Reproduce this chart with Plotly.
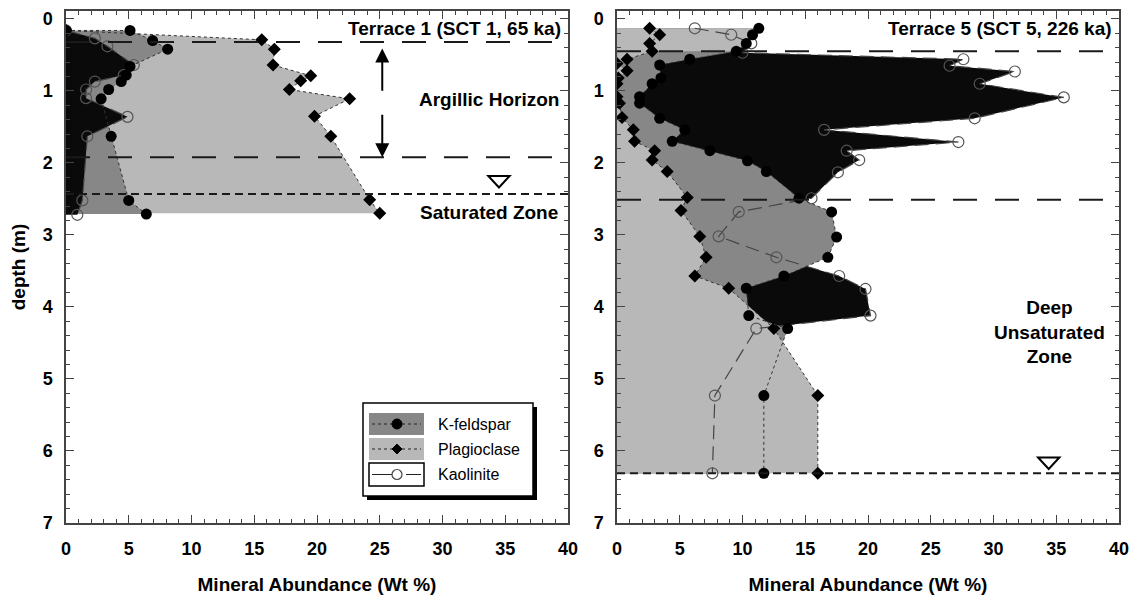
# { import the libraries
import plotly.graph_objects as go
from plotly.subplots import make_subplots
# }

# { data: x = mineral abundance (wt %), d = depth (m)
# terrace 1 (SCT 1, 65 ka)
t1_kfs_x = [0.0, 5.1, 6.9, 8.1, 5.1, 4.8, 4.4, 3.4, 2.8, 3.6, 5.0, 6.4]
t1_kfs_d = [0.16, 0.16, 0.30, 0.42, 0.66, 0.78, 0.87, 0.98, 1.11, 1.63, 2.52, 2.71]
t1_plag_x = [0.0, 15.6, 16.6, 16.5, 19.5, 18.7, 17.8, 22.6, 19.8, 21.1, 24.2, 25.0]
t1_plag_d = [0.16, 0.29, 0.42, 0.64, 0.79, 0.86, 0.98, 1.11, 1.35, 1.63, 2.51, 2.70]
t1_kao_x = [0.0, 2.3, 3.3, 5.4, 4.6, 2.3, 1.6, 1.6, 4.9, 1.7, 1.3, 0.9]
t1_kao_d = [0.16, 0.27, 0.38, 0.64, 0.78, 0.87, 0.98, 1.10, 1.36, 1.63, 2.52, 2.72]

# terrace 5 (SCT 5, 226 ka)
t5_kfs_x = [11.3, 10.8, 10.3, 9.5, 5.8, 3.4, 3.5, 2.8, 1.8, 1.8, 3.4, 5.4, 4.4,
            7.4, 10.4, 11.9, 14.5, 17.1, 17.5, 16.8, 13.3, 10.3, 10.5, 13.6, 11.7, 11.7]
t5_kfs_d = [0.13, 0.22, 0.34, 0.45, 0.56, 0.64, 0.82, 0.90, 1.08, 1.17, 1.38, 1.54, 1.70,
            1.83, 1.97, 2.12, 2.49, 2.68, 3.03, 3.31, 3.57, 3.74, 4.12, 4.30, 5.23, 6.31]
t5_plag_x = [2.6, 3.4, 2.6, 2.8, 0.8, 0.0, 0.8, 0.1, 0.0, 0.0, 0.2, 0.4, 1.3,
             1.4, 3.0, 2.8, 4.0, 5.6, 5.1, 6.6, 7.1, 6.2, 8.9, 12.5, 16.0, 16.0]
t5_plag_d = [0.13, 0.22, 0.34, 0.45, 0.56, 0.62, 0.72, 0.82, 0.90, 1.08, 1.17, 1.37, 1.54,
             1.70, 1.83, 1.96, 2.12, 2.48, 2.66, 3.02, 3.31, 3.57, 3.74, 4.30, 5.23, 6.31]
t5_kao_x = [6.2, 9.1, 10.7, 10.0, 27.6, 26.5, 31.7, 28.9, 35.6, 28.5, 16.5, 27.2, 18.3,
            19.3, 17.6, 15.5, 9.7, 8.1, 12.7, 17.7, 19.8, 20.2, 11.1, 7.8, 7.6]
t5_kao_d = [0.13, 0.22, 0.34, 0.47, 0.56, 0.65, 0.73, 0.90, 1.09, 1.38, 1.54, 1.71, 1.83,
            1.96, 2.13, 2.49, 2.68, 3.02, 3.31, 3.57, 3.75, 4.12, 4.30, 5.23, 6.31]

# horizon boundaries (long dash) and water table (short dash), m
t1_bounds = [0.32, 1.92]
t1_water = 2.43
t5_bounds = [0.45, 2.51]
t5_water = 6.31
water_symbol = [(34.5, 2.26), (34.4, 6.17)]
# }

BLACK = '#0a0a0a'
MID = '#878787'
LIGHT = '#b8b8b8'
FONT = 'Liberation Sans, Arial, sans-serif'

fig = make_subplots(rows=1, cols=2)


def fill(x, d, color, col):
    fig.add_trace(go.Scatter(x=x, y=d, mode='lines', fill='tozerox',
                             fillcolor=color, line=dict(width=0),
                             showlegend=False, hoverinfo='skip'), row=1, col=col)


def series(x, d, kind, col):
    if kind == 'kfs':
        line = dict(color='#333', width=1, dash='3px,3px')
        marker = dict(symbol='circle', size=11, color='black')
    elif kind == 'plag':
        line = dict(color='#333', width=1, dash='3px,3px')
        marker = dict(symbol='diamond', size=10, color='black')
    else:
        line = dict(color='#444', width=1.2, dash='14px,7px')
        marker = dict(symbol='circle-open', size=11, color='#555',
                      line=dict(width=1.2))
    fig.add_trace(go.Scatter(x=x, y=d, mode='lines+markers', line=line,
                             marker=marker, showlegend=False), row=1, col=col)


# { terrace 1: plagioclase under, kaolinite on top
fill(t1_plag_x, t1_plag_d, LIGHT, 1)
fill(t1_kfs_x, t1_kfs_d, MID, 1)
fill(t1_kao_x, t1_kao_d, BLACK, 1)
series(t1_kao_x, t1_kao_d, 'kao', 1)
series(t1_plag_x, t1_plag_d, 'plag', 1)
series(t1_kfs_x, t1_kfs_d, 'kfs', 1)
# }

# { terrace 5: kaolinite under, plagioclase on top
fill(t5_kao_x, t5_kao_d, BLACK, 2)
fill(t5_kfs_x, t5_kfs_d, MID, 2)
fill(t5_plag_x, t5_plag_d, LIGHT, 2)
fill(t5_kfs_x[:4], t5_kfs_d[:4], LIGHT, 2)
series(t5_kao_x, t5_kao_d, 'kao', 2)
series(t5_plag_x, t5_plag_d, 'plag', 2)
series(t5_kfs_x, t5_kfs_d, 'kfs', 2)
# }

# { horizon lines
shapes = []
for xr, yr, bounds, water in (('x', 'y', t1_bounds, t1_water),
                              ('x2', 'y2', t5_bounds, t5_water)):
    for b in bounds:
        shapes.append(dict(type='line', xref=xr, yref=yr, x0=0, x1=40, y0=b, y1=b,
                           line=dict(color='#1a1a1a', width=2, dash='24px,18px')))
    shapes.append(dict(type='line', xref=xr, yref=yr, x0=0, x1=40, y0=water, y1=water,
                       line=dict(color='#1a1a1a', width=2, dash='8px,5px')))

for (wx, wd), xr, yr in zip(water_symbol, ('x', 'x2'), ('y', 'y2')):
    shapes.append(dict(type='path', xref=xr, yref=yr,
                       path=f'M {wx-0.85},{wd-0.08} L {wx+0.85},{wd-0.08} L {wx},{wd+0.08} Z',
                       line=dict(color='black', width=2), fillcolor='white'))
# }

# { page has an 8px body margin, so the figure is drawn 8px in and 8px down
OFF = 8
W, H = 1137 - OFF, 598 - OFF
L, R, T, B = 66 - OFF, 1119 - OFF, 11 - OFF, 523 - OFF


# legend box drawn by hand, screen pixel -> paper
def px(v):
    return (v - OFF - L) / (R - L)


def py(v):
    return (B - (v - OFF)) / (B - T)


def rect(x0, y0, x1, y1, fc, lc=None, lw=0):
    shapes.append(dict(type='rect', xref='paper', yref='paper',
                       x0=px(x0), x1=px(x1), y0=py(y0), y1=py(y1),
                       fillcolor=fc, line=dict(color=lc or fc, width=lw), layer='above'))


rect(367, 407, 537, 500, 'black')
rect(363, 403, 533, 496, 'white', 'black', 1.5)
rect(369, 413, 424, 435, MID)
rect(369, 438, 424, 460, LIGHT)
rect(369, 463, 424, 486, 'white', 'black', 1.5)
for yy, dash in ((424, '3px,3px'), (449, '3px,3px'), (474.5, '22px,12px')):
    shapes.append(dict(type='line', xref='paper', yref='paper', layer='above',
                       x0=px(372), x1=px(421), y0=py(yy), y1=py(yy),
                       line=dict(color='#222', width=1, dash=dash)))
shapes.append(dict(type='circle', xref='paper', yref='paper', layer='above',
                   x0=px(392), x1=px(402), y0=py(429), y1=py(419),
                   fillcolor='black', line=dict(color='black', width=1)))
shapes.append(dict(type='path', xref='paper', yref='paper', layer='above',
                   path=f'M {px(392)},{py(449)} L {px(397)},{py(444)} L {px(402)},{py(449)} '
                        f'L {px(397)},{py(454)} Z',
                   fillcolor='black', line=dict(color='black', width=1)))
shapes.append(dict(type='circle', xref='paper', yref='paper', layer='above',
                   x0=px(392), x1=px(402), y0=py(479.5), y1=py(469.5),
                   fillcolor='white', line=dict(color='#444', width=1.2)))
# }

ann = []
for txt, yy in (('K-feldspar', 424), ('Plagioclase', 449), ('Kaolinite', 474)):
    ann.append(dict(text=txt, xref='paper', yref='paper', x=px(436), y=py(yy),
                    xanchor='left', yanchor='middle', showarrow=False,
                    font=dict(family=FONT, size=16, color='black')))

bold = dict(family=FONT, size=19, color='black', weight='bold')
ann += [
    dict(text='Terrace 1 (SCT 1, 65 ka)', xref='x', yref='y', x=39.6, y=0.13,
         xanchor='right', yanchor='middle', showarrow=False, font=bold),
    dict(text='Argillic Horizon', xref='x', yref='y', x=33.7, y=1.12,
         xanchor='center', yanchor='middle', showarrow=False, font=bold),
    dict(text='Saturated Zone', xref='x', yref='y', x=33.7, y=2.69,
         xanchor='center', yanchor='middle', showarrow=False, font=bold),
    dict(text='Terrace 5 (SCT 5, 226 ka)', xref='x2', yref='y2', x=39.6, y=0.13,
         xanchor='right', yanchor='middle', showarrow=False, font=bold),
    dict(text='Deep<br>Unsaturated<br>Zone', xref='x2', yref='y2', x=34.5, y=4.35,
         xanchor='center', yanchor='middle', showarrow=False, font=bold),
    dict(text='', xref='x', yref='y', axref='x', ayref='y', x=25.2, y=0.41,
         ax=25.2, ay=1.02, showarrow=True, arrowhead=2, arrowsize=1.4,
         arrowwidth=2, arrowcolor='black'),
    dict(text='', xref='x', yref='y', axref='x', ayref='y', x=25.2, y=1.92,
         ax=25.2, ay=1.31, showarrow=True, arrowhead=2, arrowsize=1.4,
         arrowwidth=2, arrowcolor='black'),
]

tickfont = dict(family=FONT, size=18, color='black', weight='bold')
titlefont = dict(family=FONT, size=19, color='black', weight='bold')
axis_common = dict(showline=True, linecolor='#444', linewidth=1.5, mirror='allticks',
                   ticks='inside', tickcolor='#444', tickwidth=1, ticklen=8,
                   showgrid=False, zeroline=False, tickfont=tickfont, automargin=False)

for i in (1, 2):
    fig.update_xaxes(range=[0, 40], dtick=5, ticklabelstandoff=9,
                     minor=dict(dtick=1, ticks='inside', ticklen=4, tickcolor='#444'),
                     title=dict(text='Mineral Abundance (Wt %)', standoff=19, font=titlefont),
                     **axis_common, row=1, col=i)
    fig.update_yaxes(range=[7, -0.11], dtick=1, ticklabelstandoff=8,
                     minor=dict(dtick=0.2, ticks='inside', ticklen=4, tickcolor='#444'),
                     **axis_common, row=1, col=i)

fig.update_yaxes(title=dict(text='depth (m)', standoff=14, font=titlefont), row=1, col=1)

fig.update_layout(width=W, height=H, margin=dict(l=L, r=W - R, t=T, b=H - B),
                  plot_bgcolor='white', paper_bgcolor='white',
                  xaxis=dict(domain=[0, px(568)]), xaxis2=dict(domain=[px(617), 1]),
                  shapes=shapes, annotations=ann, showlegend=False)

fig.write_html("out.html")
